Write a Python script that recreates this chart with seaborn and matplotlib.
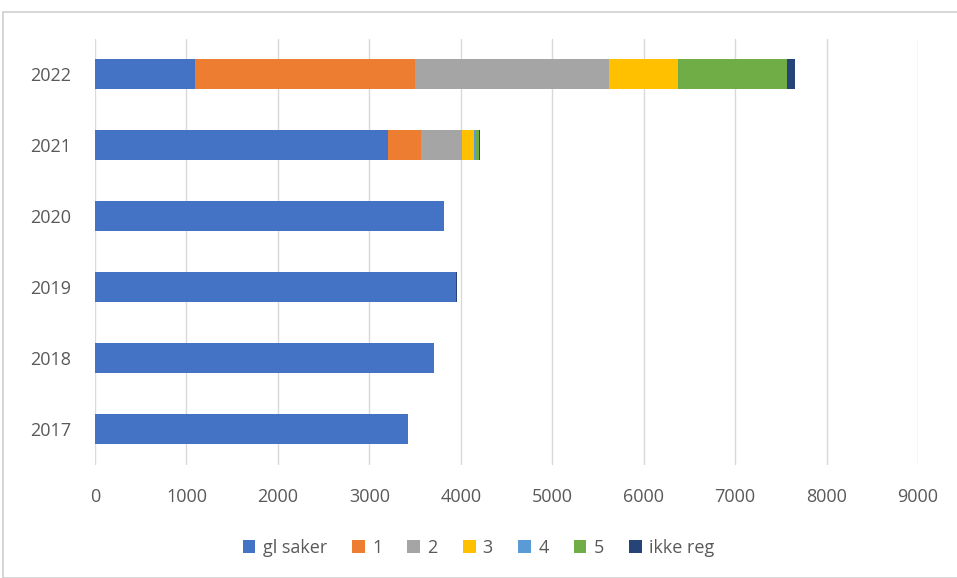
import matplotlib
matplotlib.use("Agg")
import matplotlib.pyplot as plt
from matplotlib.patches import Patch, Rectangle
import seaborn as sns
import pandas as pd
import numpy as np

years = ["2022", "2021", "2020", "2019", "2018", "2017"]
series = ["gl saker", "1", "2", "3", "4", "5", "ikke reg"]
gl_saker = [1090, 3200, 3815, 3945, 3705, 3425]
s1 = [2405, 365, 0, 0, 0, 0]
s2 = [2130, 445, 0, 0, 0, 0]
s3 = [745, 130, 0, 0, 0, 0]
s4 = [10, 20, 0, 0, 0, 0]
s5 = [1185, 40, 0, 0, 0, 0]
ikke_reg = [90, 15, 0, 12, 0, 0]
colors = ["#4472C4", "#ED7D31", "#A5A5A5", "#FFC000", "#5B9BD5", "#70AD47", "#264478"]

values = [gl_saker, s1, s2, s3, s4, s5, ikke_reg]
df = pd.DataFrame({"year": years})
cum = np.zeros(len(years))
for name, v in zip(series, values):
    cum = cum + np.array(v)
    df[name] = cum

sns.set_theme(style="white")
plt.rcParams["font.family"] = ["Open Sans", "DejaVu Sans"]

fig = plt.figure(figsize=(9.57, 5.78), dpi=100)
ax = fig.add_axes([95 / 957, 1 - 464.5 / 578, (918 - 95) / 957, (464.5 - 38.5) / 578])

for name, col in reversed(list(zip(series, colors))):
    sns.barplot(data=df, x=name, y="year", order=years, color=col, width=0.41,
                orient="h", ax=ax, saturation=1, zorder=3, edgecolor="none", linewidth=0)

ax.set_xlim(0, 9000)
ax.set_xticks(range(0, 9001, 1000))
ax.set_xlabel("")
ax.set_ylabel("")
ax.grid(axis="x", color="#D9D9D9", linewidth=1, zorder=0)
ax.grid(axis="y", visible=False)
for s in ax.spines.values():
    s.set_visible(False)
ax.tick_params(axis="x", length=0, pad=17, labelsize=13, labelcolor="#595959")
ax.tick_params(axis="y", length=0, pad=17, labelsize=13, labelcolor="#595959")

handles = [Patch(facecolor=c, edgecolor="none", label=s) for s, c in zip(series, colors)]
leg = fig.legend(handles=handles, loc="center", bbox_to_anchor=(0.5, 1 - 548 / 578),
                 ncol=7, frameon=False, fontsize=13, handlelength=0.7, handleheight=0.7,
                 handletextpad=0.4, columnspacing=1.4)
for t in leg.get_texts():
    t.set_color("#595959")

fig.patches.append(Rectangle((3 / 957, 0), 1, 1 - 12 / 578, transform=fig.transFigure,
                             fill=False, edgecolor="#D0D0D0", linewidth=1.2))

fig.savefig("out.png", dpi=100)
